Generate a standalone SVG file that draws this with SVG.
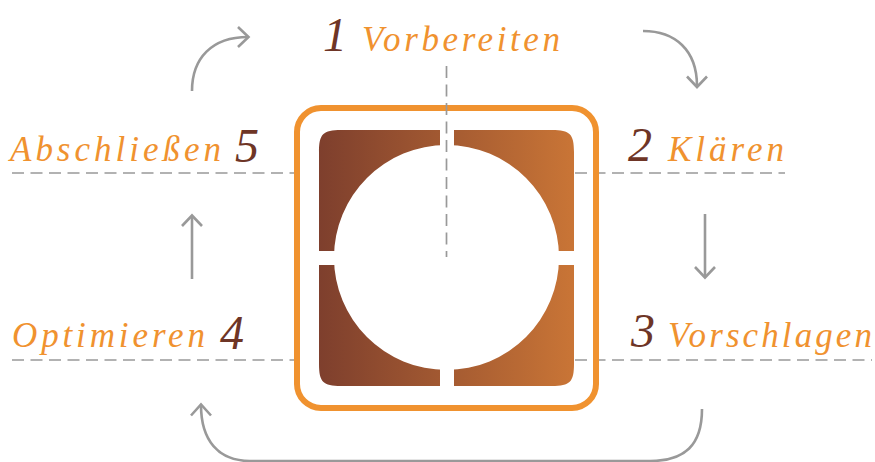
<svg xmlns="http://www.w3.org/2000/svg" width="875" height="462" viewBox="0 0 875 462">
<style>
.lbl{font-family:"Liberation Serif",serif;font-style:italic;font-size:35px;fill:#f0922f}
.num{font-family:"Liberation Serif",serif;font-style:italic;font-size:48px;fill:#6e3526}
.dash{stroke:#999;stroke-width:1.7;stroke-dasharray:12 6.5;fill:none}
.arr{stroke:#999;stroke-width:2.6;fill:none;stroke-linecap:butt;stroke-linejoin:miter}
</style>
<defs>
<linearGradient id="g" x1="319" y1="0" x2="574" y2="0" gradientUnits="userSpaceOnUse">
<stop offset="0" stop-color="#7e3f2d"/>
<stop offset="1" stop-color="#c97536"/>
</linearGradient>
<mask id="gaps" maskUnits="userSpaceOnUse" x="0" y="0" width="875" height="462">
<rect x="0" y="0" width="875" height="462" fill="#fff"/>
<rect x="440" y="120" width="14" height="280" fill="#000"/>
<rect x="310" y="251" width="275" height="14" fill="#000"/>
</mask>
</defs>
<g id="guides">
<line class="dash" x1="12" y1="173" x2="294" y2="173"/>
<line class="dash" x1="575" y1="173" x2="785" y2="173"/>
<line class="dash" x1="12" y1="360" x2="294" y2="360"/>
<line class="dash" x1="575" y1="360" x2="872" y2="360"/>
</g>
<g id="center">
<rect x="297" y="108" width="299" height="300" rx="24" fill="none" stroke="#f0922f" stroke-width="6"/>
<path mask="url(#gaps)" fill="url(#g)" fill-rule="evenodd" d="M341,130 L552,130 C570,130 574,134 574,152 L574,364 C574,382 570,386 552,386 L341,386 C323,386 319,382 319,364 L319,152 C319,134 323,130 341,130 Z M334,257.5 A112.5,112.5 0 1 0 559,257.5 A112.5,112.5 0 1 0 334,257.5 Z"/>
<line class="dash" x1="446.5" y1="66" x2="446.5" y2="257"/>
</g>
<g id="step1"><text class="num" x="323" y="51">1</text><text class="lbl" x="362" y="51" textLength="198" lengthAdjust="spacing">Vorbereiten</text></g>
<g id="step2"><text class="num" x="628" y="161">2</text><text class="lbl" x="668" y="161" textLength="116" lengthAdjust="spacing">Klären</text></g>
<g id="step3"><text class="num" x="631" y="347">3</text><text class="lbl" x="668" y="347" textLength="204" lengthAdjust="spacing">Vorschlagen</text></g>
<g id="step4"><text class="lbl" x="12" y="347" textLength="193" lengthAdjust="spacing">Optimieren</text><text class="num" x="220" y="349">4</text></g>
<g id="step5"><text class="lbl" x="10" y="161" textLength="211" lengthAdjust="spacing">Abschließen</text><text class="num" x="235" y="162">5</text></g>
<g id="connectors">
<path class="arr" d="M192,91 C192,58 212,37 248,37"/>
<path class="arr" d="M238,27 L248.5,37 L238,47"/>
<path class="arr" d="M643,31 C675,31 697,50 697,86"/>
<path class="arr" d="M687,76.5 L697,87 L707,76.5"/>
<path class="arr" d="M705,214 L705,277"/>
<path class="arr" d="M695,267 L705,277.5 L715,267"/>
<path class="arr" d="M192,279 L192,216"/>
<path class="arr" d="M182,226 L192,215.5 L202,226"/>
<path class="arr" d="M702,409 C702,445 685,461 650,461 L250,461 C218,461 201,440 201,405"/>
<path class="arr" d="M191,415.5 L201,404.5 L211,415.5"/>
</g>
</svg>
